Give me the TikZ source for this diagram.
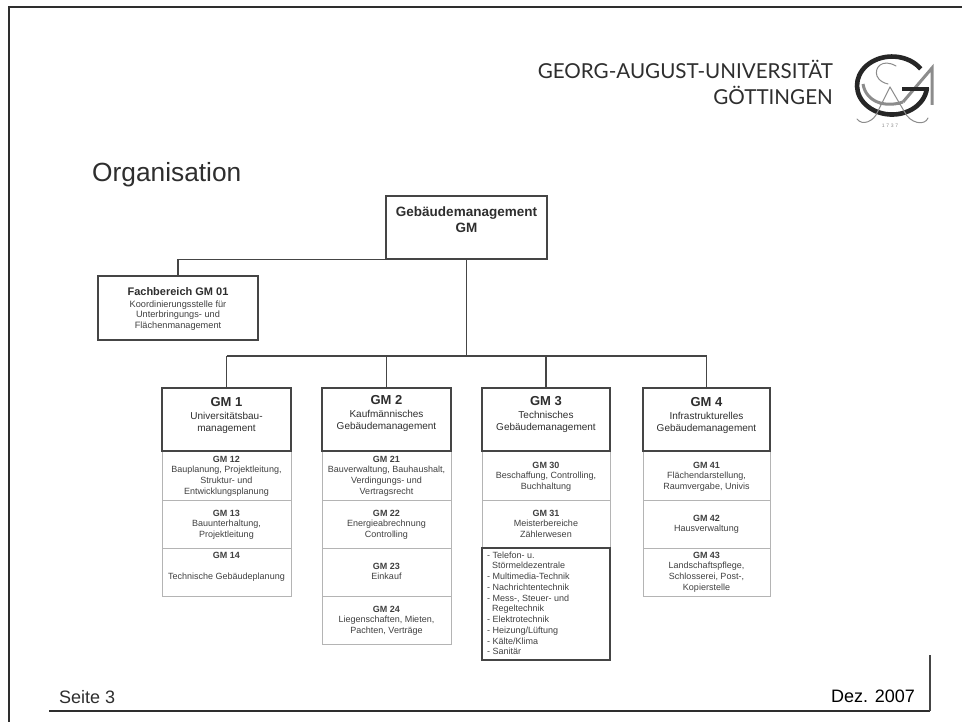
\documentclass[tikz,border=0pt]{standalone}
\usepackage{fontspec}
\setmainfont{Liberation Sans}
\newfontfamily\headfont{Lato}
\definecolor{ink}{HTML}{2E2E2E}
\definecolor{txt}{HTML}{404040}
\definecolor{edge}{HTML}{454545}
\definecolor{soft}{HTML}{B4B4B4}
\definecolor{logogray}{HTML}{8C8C8C}
\newcommand{\fs}[2]{\fontsize{#1}{#2}\selectfont}
\newcommand{\titlelab}[5]{\node[lab,text=ink,font=\fs{10}{12}] (#1) at (#2,#3-7) {\rule{0pt}{7pt}{\fs{13}{13}\bfseries #4}\\[1pt]#5};}
\newcommand{\sublab}[5]{\node[lab] (#1) at (#2,#3-7) {\rule{0pt}{7pt}{\bfseries #4}\\#5};}
\tikzset{
  lab/.style={anchor=north,inner sep=0pt,align=center,text=txt,font=\fs{9}{10.7}},
  bigbox/.style={draw=edge,line width=1.3pt,fill=white,inner sep=0pt,minimum width=#1},
  subbox/.style={draw=soft,line width=1pt,fill=white,inner sep=0pt,minimum width=#1},
  wire/.style={draw=edge,line width=1.2pt},
  frameline/.style={draw=ink,line width=1.8pt},
  logoblack/.style={draw=black!85,line width=4.6pt},
  logothin/.style={draw=logogray,line width=1pt,line cap=round},
  logothick/.style={draw=logogray,line width=3pt}
}
\begin{document}
\begin{tikzpicture}[x=1pt,y=-1pt]
\fill[white] (0,0) rectangle (962,722);
\useasboundingbox (0,0) rectangle (962,722);
% slide frame
\coordinate (ftl) at (9,7); \coordinate (ftr) at (962,7); \coordinate (fbl) at (9,722);
\coordinate (bl) at (49,711); \coordinate (br) at (930,711); \coordinate (rt) at (930,655);
\draw[frameline] (ftr) -- (ftl) -- (fbl);
\draw[frameline] (bl) -- (br);
\draw[draw=edge,line width=1.2pt] (br) -- (rt);
% header
\node[anchor=base east,inner sep=0pt,text=ink,font=\headfont\fs{20.6}{21}] (uni1) at (833,79) {GEORG-AUGUST-UNIVERSITÄT};
\node[anchor=base east,inner sep=0pt,text=ink,font=\headfont\fs{20.6}{21}] (uni2) at (833,105) {GÖTTINGEN};
% logo
\draw[logothick] (863,84) .. controls (866,102) and (885,108) .. (903,102);
\draw[logothick] (903,102) -- (932,68) -- (932,105);
\draw[logoblack] (920.7,68.9) arc[start angle=35,end angle=355,x radius=35pt,y radius=29pt];
\draw[draw=black!85,line width=3.4pt] (902,89) -- (929,89);
\draw[logothin] (896,66) .. controls (882,58) and (874,68) .. (877,76) .. controls (879,81) and (884,83) .. (888,84);
\draw[logothin] (890,87) -- (878,111) .. controls (874,122) and (862,126) .. (857,119);
\draw[logothin] (890,87) -- (904,111) .. controls (910,124) and (925,126) .. (928,118);
\draw[logothin] (880,105) -- (900,105);
\node[inner sep=0pt,text=logogray,font=\fs{5}{6}] (year) at (890,126) {1\,\,7\,\,3\,\,7};
% title and footer
\node[anchor=base west,inner sep=0pt,text=ink,font=\fs{26.3}{28}] (title) at (92,182) {Organisation};
\node[anchor=base west,inner sep=0pt,text=ink,font=\fs{18}{20}] (seite) at (59,703) {Seite 3};
\node[anchor=base east,inner sep=0pt,text=black,font=\fs{18}{20}] (datum) at (915,702) {Dez. 2007};
% boxes of the sub-units (under the heavy boxes)
\node[subbox=129pt,minimum height=49pt] (b12) at (226.5,475.5) {};
\node[subbox=129pt,minimum height=48pt] (b13) at (226.5,524) {};
\node[subbox=129pt,minimum height=48pt] (b14) at (226.5,572) {};
\node[subbox=129pt,minimum height=49pt] (b21) at (386.5,475.5) {};
\node[subbox=129pt,minimum height=48pt] (b22) at (386.5,524) {};
\node[subbox=129pt,minimum height=48pt] (b23) at (386.5,572) {};
\node[subbox=129pt,minimum height=48pt] (b24) at (386.5,620) {};
\node[subbox=128pt,minimum height=49pt] (b30) at (546,475.5) {};
\node[subbox=128pt,minimum height=48pt] (b31) at (546,524) {};
\node[subbox=127pt,minimum height=49pt] (b41) at (706.5,475.5) {};
\node[subbox=127pt,minimum height=48pt] (b42) at (706.5,524) {};
\node[subbox=127pt,minimum height=48pt] (b43) at (706.5,572) {};
% heavy boxes
\node[bigbox=161pt,minimum height=63pt] (root) at (466.5,227.5) {};
\node[bigbox=160pt,minimum height=64pt] (fach) at (178,308) {};
\node[bigbox=129pt,minimum height=63pt] (gm1) at (226.5,419.5) {};
\node[bigbox=129pt,minimum height=63pt] (gm2) at (386.5,419.5) {};
\node[bigbox=128pt,minimum height=63pt] (gm3) at (546,419.5) {};
\node[bigbox=127pt,minimum height=63pt] (gm4) at (706.5,419.5) {};
\node[bigbox=128pt,minimum height=112pt] (list) at (546,604) {};
% connectors
\coordinate (bus) at (466.5,356);
\draw[wire] (root.south west) -| (fach.north);
\draw[wire] (root.south) -- (bus);
\draw[wire] (gm1.north |- bus) -- (gm4.north |- bus);
\draw[wire] (gm1.north |- bus) -- (gm1.north);
\draw[wire] (gm2.north |- bus) -- (gm2.north);
\draw[wire] (gm3.north |- bus) -- (gm3.north);
\draw[wire] (gm4.north |- bus) -- (gm4.north);
% texts
\node[lab,text=ink,font=\fs{13.5}{16}\bfseries] (troot) at (466.5,216-10) {\rule{0pt}{10pt}Gebäudemanagement\\GM};
\node[lab,font=\fs{9.2}{10.8}] (tfach) at (178,295-8) {\rule{0pt}{8pt}{\fs{11}{11}\bfseries\color{ink}Fachbereich GM 01}\\[1pt]Koordinierungsstelle für\\Unterbringungs- und\\Flächenmanagement};
\titlelab{t1}{226.5}{404}{GM 1}{Universitätsbau-\\management}
\titlelab{t2}{386.5}{402}{GM 2}{Kaufmännisches\\Gebäudemanagement}
\titlelab{t3}{546}{403}{GM 3}{Technisches\\Gebäudemanagement}
\titlelab{t4}{706.5}{404}{GM 4}{Infrastrukturelles\\Gebäudemanagement}
\sublab{t12}{226.5}{462}{GM 12}{Bauplanung, Projektleitung,\\Struktur- und\\Entwicklungsplanung}
\sublab{t13}{226.5}{516}{GM 13}{Bauunterhaltung,\\Projektleitung}
\sublab{t14}{226.5}{558}{GM 14}{\mbox{}\\Technische Gebäudeplanung}
\sublab{t21}{386.5}{462}{GM 21}{Bauverwaltung, Bauhaushalt,\\Verdingungs- und\\Vertragsrecht}
\sublab{t22}{386.5}{516}{GM 22}{Energieabrechnung\\Controlling}
\sublab{t23}{386.5}{569}{GM 23}{Einkauf}
\sublab{t24}{386.5}{612}{GM 24}{Liegenschaften, Mieten,\\Pachten, Verträge}
\sublab{t30}{546}{468}{GM 30}{Beschaffung, Controlling,\\Buchhaltung}
\sublab{t31}{546}{516}{GM 31}{Meisterbereiche\\Zählerwesen}
\sublab{t41}{706.5}{468}{GM 41}{Flächendarstellung,\\Raumvergabe, Univis}
\sublab{t42}{706.5}{521}{GM 42}{Hausverwaltung}
\sublab{t43}{706.5}{558}{GM 43}{Landschaftspflege,\\Schlosserei, Post-,\\Kopierstelle}
\node[anchor=north west,inner sep=0pt,align=left,text=txt,font=\fs{9}{10.75}] (tlist) at (487,551) {\rule{0pt}{7pt}- Telefon- u.\\\hspace*{5pt}Störmeldezentrale\\- Multimedia-Technik\\- Nachrichtentechnik\\- Mess-, Steuer- und\\\hspace*{5pt}Regeltechnik\\- Elektrotechnik\\- Heizung/Lüftung\\- Kälte/Klima\\- Sanitär};
\end{tikzpicture}
\end{document}
